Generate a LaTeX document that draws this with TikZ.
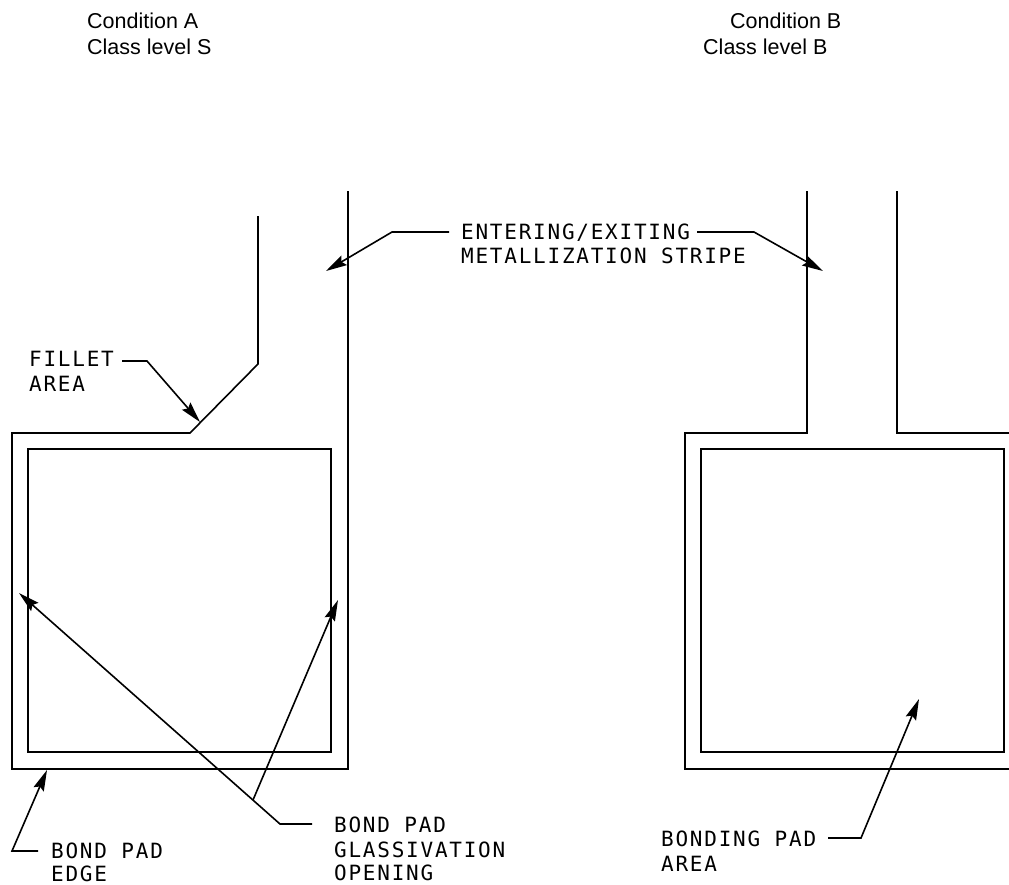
\documentclass[tikz,border=0pt]{standalone}
\usepackage{fontspec}
\setmainfont{Liberation Sans}
\newfontfamily\callfont[LetterSpace=8.4]{DejaVu Sans Mono}
\usetikzlibrary{arrows.meta}
\tikzset{
  geom/.style={line width=1.6pt,line join=miter},
  leader/.style={line width=1.6pt,-{Stealth[length=21pt,width=11pt,inset=3pt]}},
  callout/.style={anchor=base west,inner sep=0pt,font=\callfont\fontsize{21}{24}\selectfont},
  heading/.style={anchor=base west,inner sep=0pt,font=\fontsize{21.5}{24}\selectfont},
}
\begin{document}
\begin{tikzpicture}[x=1pt,y=-1pt]
\useasboundingbox (0,0) rectangle (1009,884);
% headings
\node[heading] (hA1) at (87,28) {Condition A};
\node[heading] (hA2) at (87,54) {Class level S};
\node[heading] (hB1) at (730,28) {Condition B};
\node[heading] (hB2) at (703,54) {Class level B};
% left pad
\draw[geom] (258,216) -- (258,364) -- (190,433) -- (12,433) -- (12,769) -- (348,769) -- (348,191);
\draw[geom] (28,449) rectangle (331,752);
% right pad
\draw[geom] (807,191) -- (807,433) -- (685,433) -- (685,769) -- (1009,769);
\draw[geom] (897,191) -- (897,433) -- (1009,433);
\draw[geom] (701,449) rectangle (1004,752);
% labels
\node[callout] (stripe1) at (461,239) {ENTERING/EXITING};
\node[callout] (stripe2) at (461,263) {METALLIZATION STRIPE};
\node[callout] (fillet1) at (29,366) {FILLET};
\node[callout] (fillet2) at (29,391) {AREA};
\node[callout] (edge1) at (51,858) {BOND PAD};
\node[callout] (edge2) at (51,881) {EDGE};
\node[callout] (glass1) at (334,832) {BOND PAD};
\node[callout] (glass2) at (334,857) {GLASSIVATION};
\node[callout] (glass3) at (334,880) {OPENING};
\node[callout] (area1) at (661,846) {BONDING PAD};
\node[callout] (area2) at (661,871) {AREA};
% leader geometry
\coordinate (sL0) at (449,232); \coordinate (sL1) at (392,232); \coordinate (sLt) at (326,271);
\coordinate (sR0) at (697,232); \coordinate (sR1) at (754,232); \coordinate (sRt) at (823,271);
\coordinate (f0) at (122,361); \coordinate (f1) at (147,361); \coordinate (ft) at (200,422);
\coordinate (g0) at (312,824); \coordinate (g1) at (280,824); \coordinate (gt) at (19,593);
\coordinate (gj) at (253,800); \coordinate (gt2) at (338,600);
\coordinate (e0) at (38,851); \coordinate (e1) at (12,851); \coordinate (et) at (47,770);
\coordinate (a0) at (828,838); \coordinate (a1) at (861,838); \coordinate (at) at (919,699);
% leaders
\draw[leader] (sL0) -- (sL1) -- (sLt);
\draw[leader] (sR0) -- (sR1) -- (sRt);
\draw[leader] (f0) -- (f1) -- (ft);
\draw[leader] (g0) -- (g1) -- (gt);
\draw[leader] (gj) -- (gt2);
\draw[leader] (e0) -- (e1) -- (et);
\draw[leader] (a0) -- (a1) -- (at);
\end{tikzpicture}
\end{document}
